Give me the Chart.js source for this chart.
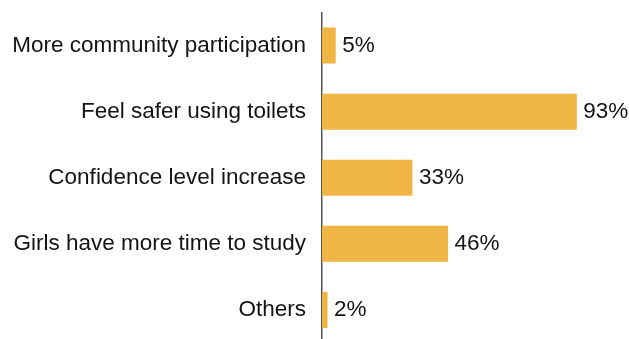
<!DOCTYPE html>
<html>
<head>
<meta charset="utf-8">
<script src="https://cdn.jsdelivr.net/npm/chart.js@4/dist/chart.umd.min.js"></script>
<style>
  html, body { margin: 0; padding: 0; background: #fff; overflow: hidden; }
  #wrap { width: 629px; height: 343px; }
</style>
</head>
<body>
<div id="wrap"><canvas id="c" width="629" height="343"></canvas></div>
<script>
const categories = [
  "More community participation",
  "Feel safer using toilets",
  "Confidence level increase",
  "Girls have more time to study",
  "Others"
];
const percentages = [5, 93, 33, 46, 2];

const barColor = "#EFB545";
const textColor = "#141414";
const labelFont = { family: "'Liberation Sans', Arial, sans-serif", size: 22.5 };

// Writes the percentage just past the end of each bar
const valueLabels = {
  id: "valueLabels",
  afterDatasetsDraw(chart) {
    const ctx = chart.ctx;
    const meta = chart.getDatasetMeta(0);
    ctx.save();
    ctx.font = `${labelFont.size}px ${labelFont.family}`;
    ctx.fillStyle = textColor;
    ctx.textAlign = "left";
    ctx.textBaseline = "middle";
    meta.data.forEach((bar, i) => {
      ctx.fillText(percentages[i] + "%", bar.x + 6.5, bar.y);
    });
    ctx.restore();
  }
};

new Chart(document.getElementById("c"), {
  type: "bar",
  data: {
    labels: categories,
    datasets: [{
      data: percentages,
      backgroundColor: barColor,
      borderWidth: 0,
      categoryPercentage: 1,
      barPercentage: 0.545
    }]
  },
  options: {
    indexAxis: "y",
    responsive: false,
    animation: false,
    layout: { padding: { top: 12.5, right: 33, bottom: 0, left: 0 } },
    plugins: { legend: { display: false }, tooltip: { enabled: false } },
    scales: {
      x: { display: false, min: 0, max: 100 },
      y: {
        afterFit(scale) {
          scale.width = 322;
          scale.paddingTop = 0;
          scale.paddingBottom = 0;
        },
        grid: { display: false, drawTicks: false },
        border: { display: true, color: "#555", width: 1.5 },
        ticks: { color: textColor, font: labelFont, padding: 16 }
      }
    }
  },
  plugins: [valueLabels]
});
</script>
</body>
</html>
